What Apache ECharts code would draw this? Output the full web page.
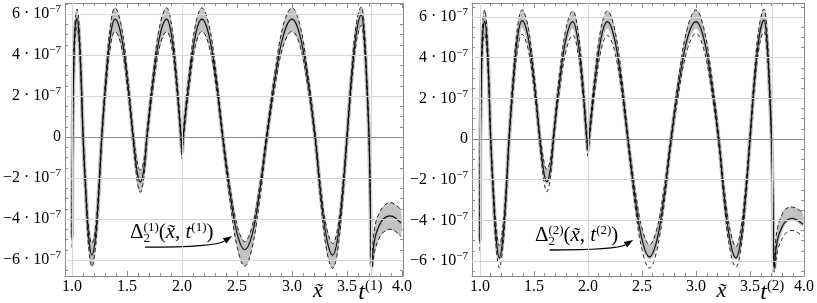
<!DOCTYPE html>
<html><head><meta charset="utf-8">
<script src="https://cdn.jsdelivr.net/npm/echarts@6/dist/echarts.min.js"></script>
<style>html,body{margin:0;padding:0;background:#fff}#c{width:817px;height:303px}</style>
</head><body><div id="c"></div>
<script>
// values in units of 1e-7
const X = [1.000,1.005,1.015,1.028,1.045,1.063,1.082,1.100,1.127,1.153,1.180,1.210,1.240,1.270,1.310,1.350,1.390,1.445,1.500,1.555,1.577,1.598,1.620,1.642,1.663,1.680,1.740,1.800,1.860,1.903,1.947,1.990,2.000,2.010,2.067,2.123,2.180,2.243,2.307,2.370,2.437,2.503,2.570,2.637,2.703,2.770,2.847,2.923,3.000,3.070,3.140,3.210,3.263,3.317,3.370,3.413,3.457,3.500,3.543,3.587,3.630,3.653,3.677,3.700,3.712,3.725,3.740,3.760,3.790,3.830,3.890,3.940,3.990];

const S1 = [-4.9,0.0,3.5,5.3,5.8,5.0,2.9,0.0,-2.9,-5.0,-5.76,-5.0,-2.9,0.0,2.9,5.0,5.75,5.0,2.9,0.0,-1.1,-1.9,-2.2,-1.9,-1.1,0.0,2.9,5.0,5.75,5.0,2.9,0.0,-0.75,0.0,2.9,5.0,5.75,5.0,2.9,0.0,-2.75,-4.76,-5.5,-4.76,-2.75,0.0,2.9,5.0,5.75,5.0,2.9,0.0,-2.9,-5.0,-5.76,-5.0,-2.9,0.0,3.0,5.15,5.95,5.15,3.0,0.0,-3.0,-6.3,-5.4,-4.8,-4.35,-4.0,-3.85,-3.95,-4.2];
const U1 = [-4.4,0.3,3.9,5.7,6.25,5.45,3.25,0.25,-2.55,-4.55,-5.2,-4.55,-2.55,0.25,3.25,5.5,6.3,5.5,3.25,0.25,-0.75,-1.4,-1.6,-1.4,-0.75,0.25,3.25,5.5,6.3,5.5,3.25,0.25,-0.45,0.25,3.25,5.5,6.3,5.5,3.25,0.25,-2.45,-4.35,-5.1,-4.35,-2.45,0.25,3.25,5.5,6.3,5.5,3.25,0.25,-2.55,-4.5,-5.2,-4.5,-2.55,0.25,3.35,5.6,6.35,5.6,3.35,0.25,-2.7,-6.0,-4.9,-4.2,-3.75,-3.4,-3.2,-3.3,-3.55];
const L1 = [-5.4,-0.3,3.1,4.9,5.35,4.6,2.55,-0.25,-3.25,-5.5,-6.33,-5.5,-3.25,-0.25,2.55,4.5,5.15,4.5,2.55,-0.25,-1.45,-2.35,-2.7,-2.35,-1.45,-0.25,2.55,4.5,5.15,4.5,2.55,-0.25,-1.05,-0.25,2.55,4.5,5.15,4.5,2.55,-0.25,-3.15,-5.4,-6.3,-5.4,-3.15,-0.25,2.55,4.5,5.15,4.5,2.55,-0.25,-3.3,-5.6,-6.4,-5.6,-3.3,-0.25,2.65,4.7,5.45,4.7,2.65,-0.25,-3.3,-6.5,-5.9,-5.4,-4.95,-4.65,-4.5,-4.6,-4.85];

const S2 = [-5.0,0.0,3.5,5.3,5.8,5.0,2.9,0.0,-2.9,-5.0,-5.85,-5.0,-2.9,0.0,2.9,5.05,5.82,5.05,2.9,0.0,-1.05,-1.8,-2.1,-1.8,-1.05,0.0,2.9,5.0,5.77,5.0,2.9,0.0,-0.55,0.0,2.9,5.0,5.77,5.0,2.9,0.0,-2.9,-5.0,-5.8,-5.0,-2.9,0.0,2.9,5.0,5.77,5.0,2.9,0.0,-2.9,-5.05,-5.85,-5.05,-2.9,0.0,2.95,5.1,5.85,5.1,2.95,0.0,-3.0,-6.35,-5.45,-4.85,-4.4,-4.05,-3.9,-4.0,-4.2];
const U2 = [-4.5,0.3,3.95,5.8,6.35,5.5,3.25,0.25,-2.5,-4.45,-5.25,-4.45,-2.5,0.25,3.3,5.55,6.35,5.55,3.3,0.25,-0.6,-1.25,-1.5,-1.25,-0.6,0.25,3.3,5.5,6.3,5.5,3.3,0.25,-0.3,0.25,3.3,5.5,6.3,5.5,3.3,0.25,-2.5,-4.45,-5.2,-4.45,-2.5,0.25,3.3,5.5,6.35,5.5,3.3,0.25,-2.5,-4.5,-5.3,-4.5,-2.5,0.25,3.35,5.6,6.4,5.6,3.35,0.25,-2.7,-6.0,-4.9,-4.25,-3.8,-3.45,-3.35,-3.45,-3.65];
const L2 = [-5.5,-0.3,3.0,4.75,5.15,4.45,2.5,-0.25,-3.25,-5.45,-6.35,-5.45,-3.25,-0.25,2.5,4.45,5.15,4.45,2.5,-0.25,-1.4,-2.25,-2.6,-2.25,-1.4,-0.25,2.5,4.4,5.1,4.4,2.5,-0.25,-0.85,-0.25,2.5,4.4,5.1,4.4,2.5,-0.25,-3.3,-5.5,-6.35,-5.5,-3.3,-0.25,2.5,4.45,5.2,4.45,2.5,-0.25,-3.25,-5.5,-6.3,-5.5,-3.25,-0.25,2.6,4.6,5.28,4.6,2.6,-0.25,-3.3,-6.55,-5.95,-5.4,-5.0,-4.65,-4.5,-4.6,-4.8];
const B2 = [-5.1,-0.1,3.3,5.0,5.45,4.7,2.7,-0.1,-2.95,-5.05,-5.9,-5.05,-2.95,-0.1,2.7,4.75,5.5,4.75,2.7,-0.1,-1.1,-1.85,-2.15,-1.85,-1.1,-0.1,2.7,4.7,5.45,4.7,2.7,-0.1,-0.6,-0.1,2.7,4.7,5.45,4.7,2.7,-0.1,-2.95,-5.05,-5.85,-5.05,-2.95,-0.1,2.7,4.7,5.45,4.7,2.7,-0.1,-2.95,-5.1,-5.9,-5.1,-2.95,-0.1,2.75,4.8,5.5,4.8,2.75,-0.1,-3.05,-6.4,-5.5,-4.9,-4.45,-4.1,-3.95,-4.05,-4.25];

const X_TICKS = [1.0,1.5,2.0,2.5,3.0,3.5,4.0];
const X_MINOR = [1.0,1.1,1.2,1.3,1.4,1.5,1.6,1.7,1.8,1.9,2.0,2.1,2.2,2.3,2.4,2.5,2.6,2.7,2.8,2.9,3.0,3.1,3.2,3.3,3.4,3.5,3.6,3.7,3.8,3.9,4.0];
const Y_TICKS = [-6,-4,-2,0,2,4,6];
const Y_MINOR = [-6.5,-6,-5.5,-5,-4.5,-4,-3.5,-3,-2.5,-2,-1.5,-1,-0.5,0,0.5,1,1.5,2,2.5,3,3.5,4,4.5,5,5.5,6,6.5];
const GRID_Y = [-6,-4,-2,2,4,6];
const T1 = 3.72, T2 = 3.715;
const GRID_X1 = [1.0, 2.0, T1];
const GRID_X2 = [1.0, 2.0, T2];
const X_TITLE = 3.236;

const FONT = '"Liberation Serif"';
const AX = '#8c8c8c';
const SM = 0.4;
const XR = [[0.936, 4.009], [0.927, 4.0]];
const YR = [[-6.78, 6.54], [-6.74, 6.69]];
const grids = [
  {left: 65, top: 3, width: 338, height: 273},
  {left: 472, top: 3, width: 338, height: 273}
];

const pairs = (xs, ys) => xs.map((x, i) => [x, ys[i]]);
function yLab(v) {
  if (v === 0) return '{n|0}';
  return '{n|' + (v < 0 ? '\u2212' : '') + Math.abs(v) + ' \u00b7 10}{s|\u22127}';
}

const xAxes = [], yAxes = [];
for (let g = 0; g < 2; g++) {
  const bx = {gridIndex: g, type: 'value', min: XR[g][0], max: XR[g][1], splitLine: {show: false}, silent: true};
  const by = {gridIndex: g, type: 'value', min: YR[g][0], max: YR[g][1], splitLine: {show: false}, silent: true};
  const line = {show: true, onZero: false, lineStyle: {color: AX, width: 1}};
  const noLine = {show: false, onZero: false};
  const tk = (vals, len) => ({show: true, inside: true, length: len, customValues: vals, lineStyle: {color: AX, width: 1}});
  xAxes.push(Object.assign({}, bx, {position: 'bottom', axisLine: line, axisTick: tk(X_TICKS, 5),
    axisLabel: {show: true, customValues: X_TICKS, formatter: v => v.toFixed(1), fontFamily: FONT, fontSize: 16, color: '#000', margin: 3}}));
  xAxes.push(Object.assign({}, bx, {position: 'bottom', axisLine: noLine, axisTick: tk(X_MINOR, 3), axisLabel: {show: false}}));
  xAxes.push(Object.assign({}, bx, {position: 'top', axisLine: line, axisTick: tk(X_TICKS, 5), axisLabel: {show: false}}));
  xAxes.push(Object.assign({}, bx, {position: 'top', axisLine: noLine, axisTick: tk(X_MINOR, 3), axisLabel: {show: false}}));
  yAxes.push(Object.assign({}, by, {position: 'left', axisLine: line, axisTick: tk(Y_TICKS, 5),
    axisLabel: {show: true, customValues: Y_TICKS, formatter: yLab, margin: 4,
      rich: {n: {fontFamily: FONT, fontSize: 16, color: '#000', lineHeight: 20},
             s: {fontFamily: FONT, fontSize: 11, color: '#000', lineHeight: 11, verticalAlign: 'top'}}}}));
  yAxes.push(Object.assign({}, by, {position: 'left', axisLine: noLine, axisTick: tk(Y_MINOR, 3), axisLabel: {show: false}}));
  yAxes.push(Object.assign({}, by, {position: 'right', axisLine: line, axisTick: tk(Y_TICKS, 5), axisLabel: {show: false}}));
  yAxes.push(Object.assign({}, by, {position: 'right', axisLine: noLine, axisTick: tk(Y_MINOR, 3), axisLabel: {show: false}}));
}

function panelSeries(g, S, U, L, BL, BH, gx) {
  const c = {type: 'line', xAxisIndex: g * 4, yAxisIndex: g * 4, symbol: 'none', showSymbol: false, smooth: SM, silent: true, animation: false};
  const gl = {color: '#d6d6d6', width: 1, type: 'solid', opacity: 1};
  return [
    Object.assign({}, c, {data: pairs(X, S), lineStyle: {width: 0, opacity: 0},
      markLine: {silent: true, symbol: 'none', animation: false, label: {show: false}, lineStyle: gl,
        data: GRID_Y.map(v => ({yAxis: v, lineStyle: gl}))
          .concat(gx.map(v => ({xAxis: v, lineStyle: gl})))
          .concat([{yAxis: 0, lineStyle: {color: '#8c8c8c', width: 1, type: 'solid', opacity: 1}}])}}),
    {type: 'custom', coordinateSystem: 'cartesian2d', xAxisIndex: g * 4, yAxisIndex: g * 4, silent: true, animation: false,
      data: X.map((x, i) => [x, BL[i], BH[i]]), encode: {x: 0, y: [1, 2]},
      renderItem: (params, api) => {
        if (params.dataIndex !== 0) return null;
        const top = X.map((x, i) => api.coord([x, BH[i]]));
        const bot = X.map((x, i) => api.coord([x, BL[i]])).reverse();
        return {type: 'group', children: [
          {type: 'polyline', shape: {points: top, smooth: 0.35}, style: {stroke: '#c3c3c3', lineWidth: 1, fill: null}},
          {type: 'polyline', shape: {points: bot, smooth: 0.35}, style: {stroke: '#c3c3c3', lineWidth: 1, fill: null}},
          {type: 'polygon', shape: {points: top.concat(bot), smooth: 0.35}, style: {fill: '#c3c3c3'}}
        ]};
      }},
    Object.assign({}, c, {data: pairs(X, S), lineStyle: {color: '#bcbcbc', width: 4}}),
    Object.assign({}, c, {data: pairs(X, L), lineStyle: {color: '#222', width: 1, type: [4, 3]}}),
    Object.assign({}, c, {data: pairs(X, U), lineStyle: {color: '#222', width: 1, type: [4, 3]}}),
    Object.assign({}, c, {data: pairs(X, S), lineStyle: {color: '#111', width: 1.2}})
  ];
}

const chart = echarts.init(document.getElementById('c'), null, {renderer: 'canvas'});
chart.setOption({
  animation: false,
  grid: grids,
  xAxis: xAxes,
  yAxis: yAxes,
  series: panelSeries(0, S1, U1, L1, L1, U1, GRID_X1).concat(panelSeries(1, S2, U2, L2, B2, U2, GRID_X2))
});

// annotations anchored in data coordinates
const ANN = [
  {g: 0, text: [1.527, -4.68], arrow: [[1.664, -5.37], [2.30, -5.37], [2.455, -4.83]], k: '1', t: T1},
  {g: 1, text: [1.509, -4.77], arrow: [[1.645, -5.46], [2.27, -5.46], [2.418, -4.97]], k: '2', t: T2}
];
const px = (g, p) => chart.convertToPixel({xAxisIndex: g * 4, yAxisIndex: g * 4}, p);
const gfx = [];
ANN.forEach(a => {
  const tp = px(a.g, a.text);
  gfx.push({type: 'text', x: tp[0], y: tp[1], silent: true, style: {
    text: '{m|\u0394}{sp|(' + a.k + ')}{m|(}{it|x\u0303}{m|, }{it|t}{sp|(' + a.k + ')}{m|)}',
    align: 'left', verticalAlign: 'middle',
    rich: {m: {font: '21px ' + FONT, fill: '#000', lineHeight: 24},
           it: {font: 'italic 21px ' + FONT, fill: '#000', lineHeight: 24},
           sp: {font: '13px ' + FONT, fill: '#000', lineHeight: 10, verticalAlign: 'top'}}}});
  gfx.push({type: 'text', x: tp[0] + 13.5, y: tp[1] + 5.5, silent: true, style: {text: '2', font: '13px ' + FONT, fill: '#000', align: 'left', verticalAlign: 'middle'}});
  const p0 = px(a.g, a.arrow[0]), p1 = px(a.g, a.arrow[1]), p2 = px(a.g, a.arrow[2]);
  const ang = Math.atan2(p2[1] - p1[1], p2[0] - p1[0]);
  const L = 9, W = 3.2;
  const bx = p2[0] - L * Math.cos(ang), byy = p2[1] - L * Math.sin(ang);
  gfx.push({type: 'bezierCurve', silent: true, shape: {x1: p0[0], y1: p0[1], cpx1: p1[0], cpy1: p1[1], x2: bx, y2: byy},
    style: {stroke: '#000', lineWidth: 1.3, fill: null}});
  gfx.push({type: 'polygon', silent: true, shape: {points: [p2,
    [bx + W * Math.sin(ang), byy - W * Math.cos(ang)], [bx - W * Math.sin(ang), byy + W * Math.cos(ang)]]},
    style: {fill: '#000'}});
  // axis titles
  const xt = px(a.g, [X_TITLE, 0]);
  gfx.push({type: 'text', x: xt[0], y: 291, silent: true, style: {text: 'x\u0303', font: 'italic 22px ' + FONT, fill: '#000', align: 'center', verticalAlign: 'middle'}});
  const tt = px(a.g, [a.t, 0]);
  gfx.push({type: 'text', x: tt[0] - 13, y: 279, silent: true, style: {
    text: '{t|t}{s|(' + a.k + ')}', align: 'left', verticalAlign: 'top',
    rich: {t: {font: 'italic 24px ' + FONT, fill: '#000', lineHeight: 28},
           s: {font: '15px ' + FONT, fill: '#000', lineHeight: 14, verticalAlign: 'top'}}}});
});
chart.setOption({graphic: gfx});
</script></body></html>
